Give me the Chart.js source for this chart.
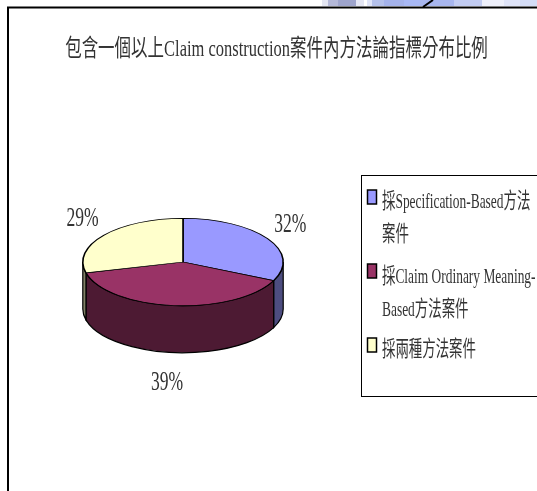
<!DOCTYPE html>
<html>
<head>
<meta charset="utf-8">
<style>
html,body{margin:0;padding:0;background:#fff;width:537px;height:491px;overflow:hidden}
#stage{position:relative;width:537px;height:491px;overflow:hidden}
canvas{position:absolute;left:0;top:0}
</style>
<script src="https://cdn.jsdelivr.net/npm/chart.js@4"></script>
</head>
<body>
<div id="stage"><canvas id="c" width="537" height="491"></canvas></div>
<script>
const chartTitle = '包含一個以上Claim construction案件內方法論指標分布比例';
const categories = ['採Specification-Based方法案件', '採Claim Ordinary Meaning-Based方法案件', '採兩種方法案件'];
const legendLines = [['採Specification-Based方法', '案件'], ['採Claim Ordinary Meaning-', 'Based方法案件'], ['採兩種方法案件']];
const shares = [32, 39, 29];
const topColors = ['#9999FF', '#993366', '#FFFFCC'];
const sideColors = ['#4D4D80', '#4D1A33', '#808066'];

const TILT = 0.436, DEPTH = 47;
const FONT = '"Liberation Serif","Noto Sans CJK TC",serif';

// Draws a run of text narrowed horizontally, the way the condensed chart face reads
function narrowText(ctx, str, x, y, size, squeeze, align) {
  ctx.save();
  ctx.font = size + 'px ' + FONT;
  ctx.fillStyle = '#333';
  ctx.textBaseline = 'middle';
  ctx.textAlign = align;
  ctx.translate(x, y);
  ctx.scale(squeeze, 1);
  ctx.fillText(str, 0, 0);
  ctx.restore();
}

// Flattens the pie into an ellipse and extrudes the front wall below it
const tiltedPie = {
  id: 'tiltedPie',
  beforeDatasetsDraw(chart) {
    const ctx = chart.ctx, arcs = chart.getDatasetMeta(0).data;
    const cx = arcs[0].x, cy = arcs[0].y, r = arcs[0].outerRadius;
    arcs.forEach((arc, i) => {
      const two = Math.PI * 2;
      for (const k of [0, two]) {
        const from = Math.max(arc.startAngle, k), to = Math.min(arc.endAngle, k + Math.PI);
        if (to <= from) continue;
        ctx.save();
        ctx.beginPath();
        ctx.ellipse(cx, cy, r, r * TILT, 0, from, to);
        ctx.ellipse(cx, cy + DEPTH, r, r * TILT, 0, to, from, true);
        ctx.closePath();
        ctx.fillStyle = sideColors[i];
        ctx.fill();
        ctx.lineWidth = 1.2;
        ctx.strokeStyle = '#000';
        ctx.stroke();
        ctx.restore();
      }
    });
    ctx.save();
    ctx.translate(0, cy);
    ctx.scale(1, TILT);
    ctx.translate(0, -cy);
  },
  afterDatasetsDraw(chart) {
    chart.ctx.restore();
  },
  afterDraw(chart) {
    const ctx = chart.ctx, arcs = chart.getDatasetMeta(0).data;

    // Strip of page artwork above the frame
    ctx.save();
    const strip = [
      [322, 8, '#e4e6f2'], [328, 10, '#b4b8d8'], [338, 18, '#9ea4cc'], [356, 8, '#e4e6f4'],
      [367, 12, '#dfe4f8'], [372, 12, '#b4c0ea'], [384, 20, '#a4b2ea'], [404, 16, '#a8b8f4'],
      [420, 34, '#a8b6ee'], [454, 28, '#c2ccf2'], [482, 22, '#eef0fb'], [504, 16, '#dfe4f8'],
      [520, 17, '#d4dcf6']
    ];
    strip.forEach(([x, w, color]) => {
      ctx.fillStyle = color;
      ctx.fillRect(x, 0, w, 6);
    });

    // Page frame, running off the right and bottom edges
    ctx.strokeStyle = '#000';
    ctx.lineWidth = 2;
    ctx.beginPath();
    ctx.moveTo(8, 491); ctx.lineTo(8, 7.5); ctx.lineTo(537, 7.5);
    ctx.stroke();
    ctx.beginPath();
    ctx.moveTo(423, 7); ctx.lineTo(433, 0);
    ctx.stroke();
    ctx.restore();

    narrowText(ctx, chartTitle, 276.5, 50, 24, 0.687, 'center');

    // Percentage labels around the pie
    arcs.forEach((arc, i) => {
      const mid = (arc.startAngle + arc.endAngle) / 2;
      const x = arc.x + Math.cos(mid) * 127;
      const y = arc.y + Math.sin(mid) * 70 + (Math.sin(mid) > 0.5 ? DEPTH + 4 : 0);
      narrowText(ctx, shares[i] + '%', x - (Math.sin(mid) > 0.5 ? 4 : 0), y, 27, 0.65, 'center');
    });

    // Legend box, open on the right where the page cuts it off
    ctx.save();
    ctx.strokeStyle = '#000';
    ctx.lineWidth = 1;
    ctx.strokeRect(361.5, 175.5, 200, 221);
    const swatchMiddle = [197, 271, 345];
    const textTop = [[202, 235], [277, 310], [350]];
    legendLines.forEach((lines, i) => {
      ctx.fillStyle = topColors[i];
      ctx.beginPath();
      ctx.rect(367.5, swatchMiddle[i] - 7, 9, 14);
      ctx.fill();
      ctx.lineWidth = 1.5;
      ctx.stroke();
      lines.forEach((line, j) => {
        narrowText(ctx, line, 382, textTop[i][j], 22, 0.61, 'left');
      });
    });
    ctx.restore();
  }
};

new Chart(document.getElementById('c'), {
  type: 'pie',
  data: {
    labels: categories,
    datasets: [{
      data: shares,
      backgroundColor: topColors,
      borderColor: '#000',
      borderWidth: 1.6
    }]
  },
  options: {
    responsive: false,
    animation: false,
    layout: { padding: { left: 82, right: 253, top: 161, bottom: 128 } },
    plugins: {
      legend: { display: false },
      tooltip: { enabled: false },
      title: { display: false }
    }
  },
  plugins: [tiltedPie]
});
</script>
</body>
</html>
